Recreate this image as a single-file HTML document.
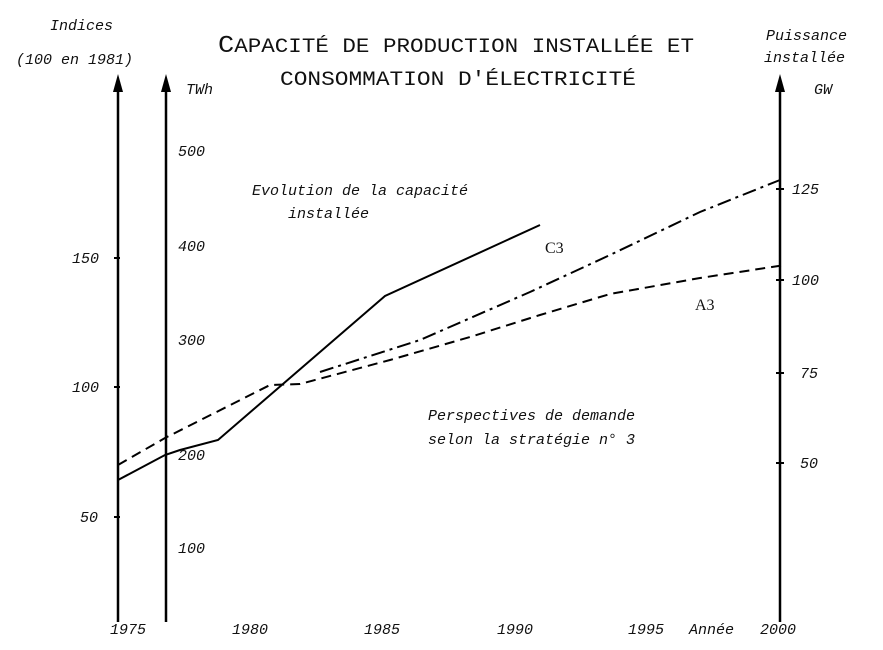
<!DOCTYPE html>
<html><head><meta charset="utf-8"><style>
body{margin:0;background:#fff}
svg{display:block}
text{font-family:"Liberation Mono",monospace;fill:#111}
.i{font-style:italic;font-size:15px}
</style></head><body>
<svg width="883" height="650" viewBox="0 0 883 650" xmlns="http://www.w3.org/2000/svg">
<g stroke="#000" stroke-width="2.5" fill="none">
<line x1="118" y1="622" x2="118" y2="86"/>
<line x1="166" y1="622" x2="166" y2="86"/>
<line x1="780" y1="622" x2="780" y2="86"/>
</g>
<g fill="#000">
<path d="M113,92 L118,74 L123,92 Z"/>
<path d="M161,92 L166,74 L171,92 Z"/>
<path d="M775,92 L780,74 L785,92 Z"/>
</g>
<g stroke="#000" stroke-width="2">
<line x1="114" y1="258" x2="120" y2="258"/><line x1="114" y1="387" x2="120" y2="387"/><line x1="114" y1="517" x2="120" y2="517"/>
<line x1="776" y1="189" x2="784" y2="189"/><line x1="776" y1="280" x2="784" y2="280"/><line x1="776" y1="373" x2="784" y2="373"/><line x1="776" y1="463" x2="784" y2="463"/>
</g>
<text x="50" y="30" class="i">Indices</text>
<text x="16" y="64" class="i">(100 en 1981)</text>
<text x="186" y="94" class="i" font-size="14">TWh</text>
<text x="766" y="40" class="i">Puissance</text>
<text x="764" y="62" class="i">installée</text>
<text x="814" y="94" class="i" font-size="14">GW</text>
<text x="456" y="52" text-anchor="middle" font-size="20" textLength="476" lengthAdjust="spacingAndGlyphs"><tspan font-size="24">C</tspan>APACITÉ DE PRODUCTION INSTALLÉE ET</text>
<text x="458" y="85" text-anchor="middle" font-size="20" textLength="356" lengthAdjust="spacingAndGlyphs">CONSOMMATION D'ÉLECTRICITÉ</text>
<g>
<text x="72" y="263" class="i">150</text><text x="72" y="392" class="i">100</text><text x="80" y="522" class="i">50</text>
<text x="178" y="156" class="i">500</text><text x="178" y="251" class="i">400</text><text x="178" y="345" class="i">300</text><text x="178" y="460" class="i">200</text><text x="178" y="553" class="i">100</text>
<text x="792" y="194" class="i">125</text><text x="792" y="285" class="i">100</text><text x="800" y="378" class="i">75</text><text x="800" y="468" class="i">50</text>
<text x="110" y="634" class="i">1975</text><text x="232" y="634" class="i">1980</text><text x="364" y="634" class="i">1985</text><text x="497" y="634" class="i">1990</text><text x="628" y="634" class="i">1995</text><text x="689" y="634" class="i">Année</text><text x="760" y="634" class="i">2000</text>
<text x="252" y="195" class="i">Evolution de la capacité</text>
<text x="288" y="218" class="i">installée</text>
<text x="428" y="420" class="i">Perspectives de demande</text>
<text x="428" y="444" class="i">selon la stratégie n° 3</text>
</g>
<text x="545" y="253" font-size="16" style="font-family:'Liberation Serif',serif">C3</text>
<text x="695" y="310" font-size="16" style="font-family:'Liberation Serif',serif">A3</text>
<g fill="none" stroke="#000" stroke-width="2">
<polyline points="118,480 165,455 180,450 218,440 385,296 540,225"/>
<polyline stroke-dasharray="10,6" points="118,465 165,438 270,385 300,384 390,360 470,337 540,315 610,294 700,278 785,265"/>
<polyline stroke-dasharray="14,5,3,5" points="320,372 420,340 530,292 610,255 700,212 780,180"/>
</g>
</svg>
</body></html>
